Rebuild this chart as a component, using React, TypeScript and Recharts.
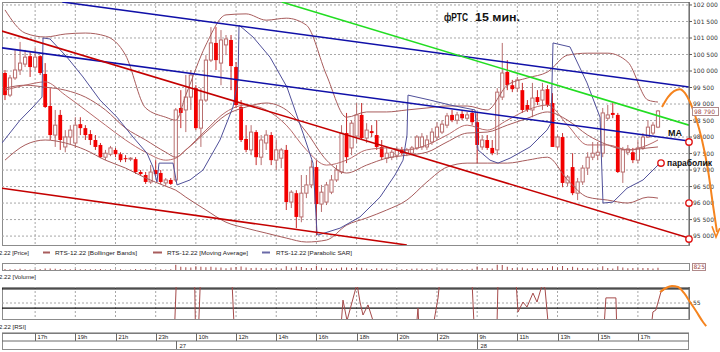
import React from "react";
import {
  ComposedChart,
  Bar,
  Line,
  XAxis,
  YAxis,
  CartesianGrid,
  ReferenceLine,
  ReferenceDot,
} from "recharts";

// ---------------- data ----------------
const opens = [
  99940, 99270, 99790, 100030, 100210, 100450, 100120, 100450, 99910, 98940,
  98060, 98670, 97700, 98000, 97820, 98390, 98270, 98090, 97910, 97760,
  97390, 97480, 97610, 97480, 97360, 97330, 97330, 96940, 96850, 96640,
  97000, 96910, 96610, 96700, 96700, 98880, 98820, 99210, 99480, 98270,
  99120, 100330, 100850, 100240, 100790, 100940, 100120, 98910, 97940, 97610,
  98150, 97390, 97820, 98060, 97300, 97360, 97610, 96030, 96300, 95580,
  96300, 96550, 97090, 95970, 96030, 96330, 96700, 96940, 98120, 97670,
  98030, 98670, 97970, 98180, 98060, 97700, 97360, 97390, 97450, 97610,
  97510, 97510, 97670, 97700, 97700, 97850, 98000, 98150, 98360, 98670,
  98510, 98700, 98570, 98730, 98450, 97700, 97910, 97670, 97610, 99210,
  99970, 99570, 99480, 99420, 98970, 98820, 99210, 99120, 99450, 99030,
  97700, 98000, 96610, 97090, 96300, 96640, 97060, 97390, 97450, 97510,
  98570, 98730, 98670, 96940, 97540, 97540, 97300, 97670, 98000, 98120,
  98300,
];
const highs = [
  100030, 99880, 100640, 100880, 100640, 100570, 100700, 100480, 100240, 99480,
  98820, 98820, 98210, 98360, 98600, 98600, 98360, 98210, 98060, 97820,
  97610, 97730, 97670, 97540, 97450, 97390, 97390, 97000, 96940, 97150,
  97300, 97000, 96760, 96760, 98880, 99420, 99880, 100030, 99570, 99480,
  100480, 101330, 101330, 101240, 101090, 101090, 100270, 99120, 98360, 98360,
  98210, 98060, 98210, 98150, 97910, 97670, 97760, 96390, 96390, 96850,
  96850, 97300, 97300, 96550, 96640, 96850, 97150, 98360, 98730, 98510,
  99030, 99030, 98420, 98360, 98510, 97910, 97700, 97610, 97700, 97700,
  97670, 97730, 98060, 98120, 98060, 98270, 98450, 98510, 98730, 98820,
  98760, 98820, 98760, 98820, 98730, 98060, 98060, 97910, 99480, 100850,
  100330, 99730, 99820, 99640, 99120, 99640, 99420, 99640, 99570, 99330,
  98060, 98120, 96850, 97510, 96760, 97150, 97540, 97850, 97850, 98880,
  98970, 99030, 98730, 97700, 97760, 97670, 97910, 98120, 98510, 98450,
  98820,
];
const lows = [
  99120, 99210, 99730, 99880, 100120, 99820, 100030, 99880, 98880, 97910,
  97700, 97610, 97540, 97760, 97670, 98060, 97910, 97760, 97610, 97360,
  97300, 97420, 97390, 97240, 97240, 97270, 96880, 96820, 96580, 96580,
  96820, 96580, 96510, 96550, 96640, 98270, 98150, 98820, 98210, 97700,
  99060, 100270, 100030, 99570, 100480, 99420, 98880, 97850, 97540, 97450,
  97150, 97150, 97610, 97150, 97000, 97060, 95790, 95850, 95240, 95420,
  96150, 96450, 95030, 95730, 95940, 96270, 96640, 96880, 97210, 97450,
  97820, 97910, 97820, 98000, 97610, 97300, 97210, 97300, 97360, 97450,
  97420, 97450, 97610, 97610, 97610, 97760, 97910, 98090, 98270, 98450,
  98390, 98510, 98510, 98360, 97210, 97610, 97610, 97450, 97450, 99120,
  99420, 99360, 99360, 98730, 98760, 98600, 98970, 98820, 98910, 97700,
  97610, 96480, 96510, 96240, 96090, 96550, 96850, 97300, 97300, 97390,
  98510, 98570, 96910, 96610, 97450, 97210, 97210, 97610, 97970, 98060,
  98270,
];
const closes = [
  99270, 99790, 100030, 100240, 100420, 100120, 100420, 99940, 98910, 98060,
  98360, 97910, 98000, 98210, 98360, 98270, 98060, 97910, 97700, 97390,
  97510, 97670, 97480, 97300, 97330, 97360, 96940, 96880, 96640, 96940,
  96880, 96640, 96700, 96580, 98820, 98730, 99210, 99880, 98270, 99120,
  100330, 100850, 100330, 100940, 100970, 100150, 98970, 97910, 97610, 98150,
  97390, 97910, 98060, 97300, 97610, 97610, 96030, 96330, 95580, 96300,
  96550, 97090, 95970, 96330, 96550, 96700, 97000, 98120, 97390, 98420,
  98670, 97970, 98210, 98120, 97700, 97390, 97510, 97540, 97610, 97510,
  97610, 97670, 98000, 98000, 97910, 98150, 98300, 98390, 98640, 98510,
  98670, 98570, 98670, 98450, 97760, 97910, 97670, 97510, 99360, 99940,
  99570, 99450, 99730, 98820, 98820, 99180, 99060, 99420, 98970, 97700,
  98000, 96610, 96790, 96300, 96640, 97060, 97390, 97510, 97540, 98730,
  98670, 98670, 96940, 97610, 97640, 97300, 97670, 98000, 98300, 98360,
  98790,
];
const volumes = [
  600, 400, 500, 700, 400, 300, 500, 600, 800, 900, 700, 600, 500, 400, 600,
  500, 400, 500, 400, 600, 300, 400, 300, 500, 200, 300, 600, 300, 500, 400,
  300, 500, 300, 400,
  3000, 1800, 1600, 1500, 2200, 1900, 1600, 1800, 1500, 1400, 1000, 1500, 1700,
  2000, 1400, 1200, 1300, 1100, 900, 1200, 1000, 800, 2200, 1300, 2000, 1700,
  1200, 1100, 2500, 1300, 1000, 900, 800, 1500,
  1500, 1200, 1300, 1300, 900, 600, 1000, 900, 700, 500, 600, 500, 600, 700, 900,
  700, 600, 800, 700, 700, 800, 600, 500, 600, 500, 700,
  2000, 1200, 1000, 900, 3000, 2800, 1800, 1200, 1000, 1500, 900, 1200, 900,
  1000, 1100, 2200, 1300, 2300, 1200, 1800, 1300, 1200, 1000, 800, 900, 2200,
  1200, 900, 2100, 1400, 1000, 1100, 1000, 1200, 1100, 900, 1300,
];

const priceTicks = [
  95000, 95500, 96000, 96500, 97000, 97500, 98000, 98500, 99000, 99500, 100000,
  100500, 101000, 101500, 102000,
];
const hourTicks = [6, 14, 22, 30, 38, 46, 54, 62, 70, 78, 86, 94, 102, 110, 118, 126];
const hourLabels = ["17h", "19h", "21h", "23h", "10h", "12h", "14h", "16h", "18h", "20h", "22h", "9h", "11h", "13h", "15h", "17h"];
const dayTicks = [34, 94];
const dayLabels = ["27", "28"];

const bandIdx = [0, 4, 8, 12, 16, 20, 24, 28, 32, 34, 36, 40, 44, 48, 52, 56, 60, 64, 68, 72, 76, 80, 84, 88, 92, 96, 100, 104, 108, 112, 116, 120, 124, 128, 130];
const bbUpper = [101850, 101150, 101030, 101120, 101150, 101060, 100480, 98880, 98600, 98510, 99270, 100790, 101700, 101730, 101540, 101600, 101390, 99880, 98600, 98760, 98760, 98820, 98880, 98940, 98940, 98820, 99570, 99790, 99970, 100480, 100540, 100540, 100270, 99120, 99060];
const bbMiddle = [99480, 99570, 99510, 99420, 99210, 98820, 98270, 97910, 97540, 97390, 97610, 98150, 98670, 98910, 99030, 98820, 98150, 97300, 96910, 97150, 97360, 97450, 97540, 97850, 98120, 98150, 98360, 98570, 98760, 98510, 98060, 97760, 97610, 97670, 97700];
const bbLower = [97300, 97760, 97910, 97820, 97610, 97300, 97060, 96760, 96510, 96390, 96180, 95790, 95420, 95240, 95090, 94940, 94820, 94880, 95330, 95550, 95790, 96090, 96640, 97090, 97210, 97210, 97210, 97300, 97390, 96700, 96180, 96090, 96000, 96180, 96150];
const maValues = [99420, 99570, 99670, 99270, 98820, 98360, 97910, 97540, 97300, 97360, 97610, 98210, 98760, 98970, 98820, 98360, 97610, 97150, 97300, 97610, 97670, 97610, 97760, 98060, 98360, 98210, 98510, 98820, 98970, 98360, 97760, 97760, 97610, 97760, 97910];

const sarIdx = [-0.6, 2.99, 5.57, 7.37, 7.57, 8.96, 12.34, 15.53, 18.91, 22.3, 25.48, 28.27, 29.46, 30.26, 30.66, 33.45, 34.24, 36.83, 39.42, 42.8, 45.39, 46.39, 46.59, 49.37, 52.76, 56.14, 59.33, 61.32, 62.12, 62.31, 66.69, 70.67, 74.66, 77.64, 79.24, 80.03, 80.23, 84.61, 88.59, 93.57, 94.17, 96.56, 98.15, 100.54, 104.52, 107.9, 108.7, 109.1, 112.48, 115.87, 118.46, 119.05, 121.04, 123.84, 127.02, 130.4];
const sarValues = [97820, 98510, 98910, 99210, 101000, 100970, 100420, 99820, 99120, 98600, 98000, 97510, 97090, 96640, 97210, 97210, 96550, 96700, 97000, 97910, 98910, 99730, 101390, 101030, 100420, 99510, 98120, 97210, 95090, 95030, 95240, 95580, 96180, 96850, 97300, 98060, 99270, 99120, 98970, 98820, 97610, 97300, 97210, 97360, 97700, 98210, 98420, 100850, 100730, 99640, 98600, 96000, 96030, 96450, 96700, 97210];

const rsiIdx = [-0.6, 33.45, 34.44, 37.63, 38.03, 38.23, 39.22, 44.79, 45.99, 66.3, 67.29, 68.09, 70.08, 70.68, 71.27, 72.27, 73.26, 73.66, 81.23, 82.22, 82.82, 83.82, 86.21, 87.4, 92.58, 93.77, 97.75, 98.35, 101.73, 102.13, 103.12, 103.92, 105.11, 105.91, 106.91, 107.5, 108.9, 118.74, 119.63, 121.62, 122.02, 127.79, 128.99, 129.58, 130.58, 131.18];
const rsiValues = [35, 35, 75, 75, 35, 35, 75, 75, 35, 35, 55.9, 49.5, 61, 55.3, 51.25, 54.4, 49.5, 35, 35, 53.4, 35, 35, 56.6, 75, 75, 35, 35, 75, 62, 52.2, 55.3, 53.75, 58.1, 55.3, 60.5, 59.7, 35, 35, 56.6, 56.6, 35, 35, 52.2, 52.8, 58.4, 59.1];

// trend lines [index, price]
const blueUpperLine = [[11.4, 102090], [136.17, 99515]];
const blueLowerLine = [[-0.597, 100700], [136.17, 97880]];
const redUpperLine = [[-0.597, 101210], [136.17, 94940]];
const redLowerLine = [[-0.597, 96450], [80.0, 94730]];
const greenLine = [[55.1, 102090], [136.17, 98360]];

// hand-drawn forecast annotations
const orangePriceIdx = [130.8, 131.99, 133.19, 134.38, 135.38, 136.37, 137.57, 138.76, 139.96, 140.95, 141.75];
const orangePriceVals = [98910, 99210, 99390, 99450, 99330, 99060, 98570, 97910, 97000, 95940, 95120];
const orangeHeadIdx = [140.75, 141.55, 142.3];
const orangeHeadVals = [95300, 94970, 95240];
const orangeRsiIdx = [130.4, 131.59, 132.79, 133.98, 135.18, 136.37, 137.57, 138.96, 139.6];
const orangeRsiVals = [58.44, 59.69, 60.3, 60.0, 58.13, 55.31, 52.5, 49.06, 47.8];
const markerIdx = [136.17, 136.17, 136.17, 130.6];
const markerVals = [97850, 96000, 94910, 97210];

// ---------------- derived tables ----------------
const candles = opens.map((o, i) => ({
  i,
  o,
  h: highs[i],
  l: lows[i],
  c: closes[i],
  range: [lows[i], highs[i]],
}));
const volData = volumes.map((v, i) => ({ i, v }));
const bandData = bandIdx.map((i, k) => ({
  i,
  u: bbUpper[k],
  m: bbMiddle[k],
  lo: bbLower[k],
  ma: maValues[k],
}));
const sarData = sarIdx.map((i, k) => ({ i, p: sarValues[k] }));
const rsiData = rsiIdx.map((i, k) => ({ i, v: rsiValues[k] }));
const seg = (pts: number[][]) => pts.map(([i, p]) => ({ i, p }));
const orangePrice = orangePriceIdx.map((i, k) => ({ i, p: orangePriceVals[k] }));
const orangeHead = orangeHeadIdx.map((i, k) => ({ i, p: orangeHeadVals[k] }));
const orangeRsi = orangeRsiIdx.map((i, k) => ({ i, v: orangeRsiVals[k] }));

// ---------------- layout constants ----------------
const X0 = -0.597;
const STEP = 5.023;
const X1 = X0 + 687 / STEP;
const XW = X0 + 718 / STEP;
const P0 = 94730;
const P1 = 102090;

const HOLLOW = "#b86e6e";
const REDBODY = "#f20000";
const REDWICK = "#c42a2a";
const BAND = "#a85c5c";
const SAR = "#50509a";
const GRID = "#a6a6a6";
const ORANGE = "#f5841f";
const FONT = "'Liberation Sans', Arial, sans-serif";
const AXFONT = "'DejaVu Sans', sans-serif";

const fmtPrice = (v: number) =>
  `${Math.floor(v / 1000)} ${String(v % 1000).padStart(3, "0")}`;

function Candle(props: any) {
  const { x, y, width, height, payload } = props;
  if (!payload || x == null || y == null) return null;
  const top = Math.min(y, y + height);
  const span = Math.abs(height);
  const { o, h, l, c } = payload;
  const k = h > l ? span / (h - l) : 0;
  const cx = x + width / 2;
  const yO = top + (h - o) * k;
  const yC = top + (h - c) * k;
  const bt = Math.min(yO, yC);
  const bh = Math.max(1, Math.abs(yO - yC));
  const up = c >= o;
  return (
    <g>
      <line x1={cx} x2={cx} y1={top} y2={top + span} stroke={up ? HOLLOW : REDWICK} strokeWidth={1} />
      {up ? (
        <rect x={cx - 1.6} y={bt} width={3.2} height={bh} fill="#ffffff" stroke={HOLLOW} strokeWidth={1} />
      ) : (
        <rect x={cx - 1.9} y={bt} width={3.8} height={bh} fill={REDBODY} />
      )}
    </g>
  );
}

function PriceTick(props: any) {
  const { x, y, payload } = props;
  return (
    <text x={x} y={y} dy="0.36em" fontSize={6} fontFamily={AXFONT} fill="#333" textAnchor="start">
      {fmtPrice(payload.value)}
    </text>
  );
}

function RsiTick(props: any) {
  const { x, y, payload } = props;
  return (
    <text x={x} y={y} dy="0.36em" fontSize={6} fontFamily={AXFONT} fill="#333" textAnchor="start">
      {String(payload.value)}
    </text>
  );
}

function HourTick(props: any) {
  const { x, y, payload } = props;
  const k = hourTicks.indexOf(payload.value);
  const px = Math.round(x) + 0.5;
  return (
    <g>
      <line x1={px} x2={px} y1={y} y2={y + 8} stroke="#6a6a6a" />
      <text x={px + 2} y={y + 6.4} fontSize={5.8} fontFamily={FONT} fill="#222">
        {hourLabels[k] ?? ""}
      </text>
    </g>
  );
}

function DayTick(props: any) {
  const { x, y, payload } = props;
  const k = dayTicks.indexOf(payload.value);
  const px = Math.round(x) + 0.5;
  return (
    <g>
      <line x1={px} x2={px} y1={y} y2={y + 8} stroke="#6a6a6a" />
      <text x={px + 3} y={y + 6.6} fontSize={5.8} fontFamily={FONT} fill="#222">
        {dayLabels[k] ?? ""}
      </text>
    </g>
  );
}

const frame = (left: number, top: number, width: number, height: number): React.CSSProperties => ({
  position: "absolute",
  left,
  top,
  width,
  height,
  boxSizing: "border-box",
  border: "1px solid #8c8c8c",
});
const abs = (left: number, top: number): React.CSSProperties => ({ position: "absolute", left, top });

export default function App() {
  return (
    <div
      style={{
        position: "fixed",
        left: 0,
        top: 0,
        width: 720,
        height: 352,
        overflow: "hidden",
        background: "#ffffff",
      }}
    >
      <div style={frame(2, 2, 688, 244)} />
      <div style={frame(2, 263, 688, 8)} />
      <div style={frame(2, 287, 688, 33)} />
      <div style={frame(2, 333, 687, 17)} />

      {/* price panel */}
      <div style={abs(0, 0)}>
        <ComposedChart width={720} height={246} data={candles} margin={{ top: 2, right: 0, bottom: 1, left: 2 }}>
          <CartesianGrid
            stroke={GRID}
            strokeDasharray="2 2"
            horizontalValues={priceTicks}
            verticalValues={hourTicks}
          />
          <XAxis type="number" dataKey="i" domain={[X0, X1]} allowDataOverflow hide />
          <YAxis
            orientation="right"
            type="number"
            domain={[P0, P1]}
            allowDataOverflow
            ticks={priceTicks}
            interval={0}
            width={31}
            tickSize={3}
            tickMargin={1}
            tick={<PriceTick />}
            axisLine={{ stroke: "#5a5a5a" }}
            tickLine={{ stroke: "#5a5a5a" }}
          />
          <Line data={bandData} dataKey="u" type="monotone" stroke={BAND} strokeWidth={1} dot={false} isAnimationActive={false} />
          <Line data={bandData} dataKey="m" type="monotone" stroke={BAND} strokeWidth={1} dot={false} isAnimationActive={false} />
          <Line data={bandData} dataKey="lo" type="monotone" stroke={BAND} strokeWidth={1} dot={false} isAnimationActive={false} />
          <Line data={bandData} dataKey="ma" type="monotone" stroke="#b86a6a" strokeWidth={1} dot={false} isAnimationActive={false} />
          <Line data={sarData} dataKey="p" type="linear" stroke={SAR} strokeWidth={1} dot={false} isAnimationActive={false} />
          <Bar dataKey="range" barSize={3} shape={<Candle />} isAnimationActive={false} />
          <Line data={seg(blueUpperLine)} dataKey="p" type="linear" stroke="#1010a8" strokeWidth={1.6} dot={false} isAnimationActive={false} />
          <Line data={seg(blueLowerLine)} dataKey="p" type="linear" stroke="#1010a8" strokeWidth={1.6} dot={false} isAnimationActive={false} />
          <Line data={seg(redUpperLine)} dataKey="p" type="linear" stroke="#c40000" strokeWidth={1.6} dot={false} isAnimationActive={false} />
          <Line data={seg(redLowerLine)} dataKey="p" type="linear" stroke="#c40000" strokeWidth={1.6} dot={false} isAnimationActive={false} />
          <Line data={seg(greenLine)} dataKey="p" type="linear" stroke="#22dd22" strokeWidth={1.6} dot={false} isAnimationActive={false} />
        </ComposedChart>
      </div>

      {/* price annotations overlay */}
      <div style={abs(0, 0)}>
        <ComposedChart width={720} height={246} margin={{ top: 2, right: 0, bottom: 1, left: 2 }}>
          <XAxis type="number" dataKey="i" domain={[X0, XW]} allowDataOverflow hide />
          <YAxis type="number" domain={[P0, P1]} allowDataOverflow hide />
          <Line data={orangePrice} dataKey="p" type="monotone" stroke={ORANGE} strokeWidth={2} dot={false} isAnimationActive={false} />
          <Line data={orangeHead} dataKey="p" type="linear" stroke={ORANGE} strokeWidth={1.6} dot={false} isAnimationActive={false} />
          {markerIdx.map((i, k) => (
            <ReferenceDot key={k} x={i} y={markerVals[k]} r={3.2} fill="#ffffff" stroke="#e01414" strokeWidth={1.4} />
          ))}
        </ComposedChart>
      </div>

      {/* volume panel */}
      <div style={abs(0, 263)}>
        <ComposedChart width={720} height={8} data={volData} margin={{ top: 0, right: 31, bottom: 1, left: 2 }}>
          <CartesianGrid stroke={GRID} strokeDasharray="2 2" horizontal={false} verticalValues={hourTicks} />
          <XAxis type="number" dataKey="i" domain={[X0, X1]} allowDataOverflow hide />
          <YAxis type="number" domain={[0, 4000]} allowDataOverflow hide />
          <Bar dataKey="v" barSize={1} fill="#a54646" isAnimationActive={false} />
        </ComposedChart>
      </div>

      {/* RSI panel */}
      <div style={abs(0, 287)}>
        <ComposedChart width={720} height={33} margin={{ top: 0, right: 0, bottom: 1, left: 2 }}>
          <CartesianGrid stroke={GRID} strokeDasharray="2 2" horizontalValues={[55]} verticalValues={hourTicks} />
          <XAxis type="number" dataKey="i" domain={[X0, X1]} allowDataOverflow hide />
          <YAxis
            orientation="right"
            type="number"
            domain={[50, 60]}
            allowDataOverflow
            ticks={[55]}
            interval={0}
            width={31}
            tickSize={3}
            tickMargin={1}
            tick={<RsiTick />}
            axisLine={{ stroke: "#5a5a5a" }}
            tickLine={{ stroke: "#5a5a5a" }}
          />
          <ReferenceLine y={59.4} stroke="#111" strokeWidth={1.2} />
          <ReferenceLine y={53.4} stroke="#111" strokeWidth={1.2} />
          <Line data={rsiData} dataKey="v" type="linear" stroke="#a54a4a" strokeWidth={1} dot={false} isAnimationActive={false} />
        </ComposedChart>
      </div>

      {/* RSI annotation overlay */}
      <div style={abs(0, 283)}>
        <ComposedChart width={720} height={50} margin={{ top: 0, right: 0, bottom: 0, left: 2 }}>
          <XAxis type="number" dataKey="i" domain={[X0, XW]} allowDataOverflow hide />
          <YAxis type="number" domain={[45.625, 61.25]} allowDataOverflow hide />
          <Line data={orangeRsi} dataKey="v" type="monotone" stroke={ORANGE} strokeWidth={2} dot={false} isAnimationActive={false} />
        </ComposedChart>
      </div>

      {/* time axis: hour row */}
      <div style={abs(0, 332)}>
        <ComposedChart width={720} height={9} margin={{ top: 0, right: 31, bottom: 0, left: 2 }}>
          <XAxis
            type="number"
            dataKey="i"
            domain={[X0, X1]}
            allowDataOverflow
            ticks={hourTicks}
            interval={0}
            height={8}
            tickLine={false}
            tickSize={0}
            tickMargin={0}
            axisLine={{ stroke: "#6a6a6a" }}
            tick={<HourTick />}
          />
          <YAxis type="number" domain={[0, 1]} hide />
          <Line data={volData} dataKey="v" stroke="none" dot={false} isAnimationActive={false} />
        </ComposedChart>
      </div>

      {/* time axis: day row */}
      <div style={abs(0, 340)}>
        <ComposedChart width={720} height={10} margin={{ top: 0, right: 31, bottom: 0, left: 2 }}>
          <XAxis
            type="number"
            dataKey="i"
            domain={[X0, X1]}
            allowDataOverflow
            ticks={dayTicks}
            interval={0}
            height={9}
            tickLine={false}
            tickSize={0}
            tickMargin={0}
            axisLine={{ stroke: "#6a6a6a" }}
            tick={<DayTick />}
          />
          <YAxis type="number" domain={[0, 1]} hide />
          <Line data={volData} dataKey="v" stroke="none" dot={false} isAnimationActive={false} />
        </ComposedChart>
      </div>

      {/* texts */}
      <svg width={720} height={352} style={{ position: "absolute", left: 0, top: 0, pointerEvents: "none" }}>
        <text x={444} y={20.5} fontFamily={FONT} fontWeight="bold" fontSize={10} fill="#111" textLength={24} lengthAdjust="spacingAndGlyphs">фРТС</text>
        <text x={475} y={20.5} fontFamily={FONT} fontWeight="bold" fontSize={10} fill="#111" textLength={45} lengthAdjust="spacingAndGlyphs">15 мин.</text>
        <text x={668} y={136} fontFamily={FONT} fontWeight="bold" fontSize={8.5} fill="#111" textLength={14} lengthAdjust="spacingAndGlyphs">МА</text>
        <text x={667} y={165.5} fontFamily={FONT} fontWeight="bold" fontSize={8.5} fill="#111" textLength={45} lengthAdjust="spacingAndGlyphs">параболик</text>

        <rect x={692.5} y={107.5} width={26} height={8} fill="#ffffff" stroke="#b08a8a" />
        <text x={694} y={114} fontFamily={AXFONT} fontSize={6} fill="#a04848">98 790</text>
        <rect x={692.5} y={263.5} width={13} height={7} fill="#ffffff" stroke="#b08a8a" />
        <text x={693.5} y={269.3} fontFamily={AXFONT} fontSize={6} fill="#a04848">825</text>

        <text x={-1} y={255} fontFamily={FONT} fontSize={6.2} fill="#222" textLength={30} lengthAdjust="spacingAndGlyphs">2.22 [Price]</text>
        <line x1={43} x2={50} y1={252.5} y2={252.5} stroke={BAND} strokeWidth={2} />
        <text x={55} y={255} fontFamily={FONT} fontSize={6.2} fill="#222" textLength={82} lengthAdjust="spacingAndGlyphs">RTS-12.22 [Bollinger Bands]</text>
        <line x1={153} x2={162} y1={252.5} y2={252.5} stroke={BAND} strokeWidth={2} />
        <text x={167} y={255} fontFamily={FONT} fontSize={6.2} fill="#222" textLength={81} lengthAdjust="spacingAndGlyphs">RTS-12.22 [Moving Average]</text>
        <line x1={262} x2={270} y1={252.5} y2={252.5} stroke="#6a6aa8" strokeWidth={2} />
        <text x={276} y={255} fontFamily={FONT} fontSize={6.2} fill="#222" textLength={76} lengthAdjust="spacingAndGlyphs">RTS-12.22 [Parabolic SAR]</text>

        <text x={-1} y={279} fontFamily={FONT} fontSize={6.2} fill="#222" textLength={37} lengthAdjust="spacingAndGlyphs">2.22 [Volume]</text>
        <text x={-1} y={329} fontFamily={FONT} fontSize={6.2} fill="#222" textLength={27} lengthAdjust="spacingAndGlyphs">2.22 [RSI]</text>
      </svg>
    </div>
  );
}
